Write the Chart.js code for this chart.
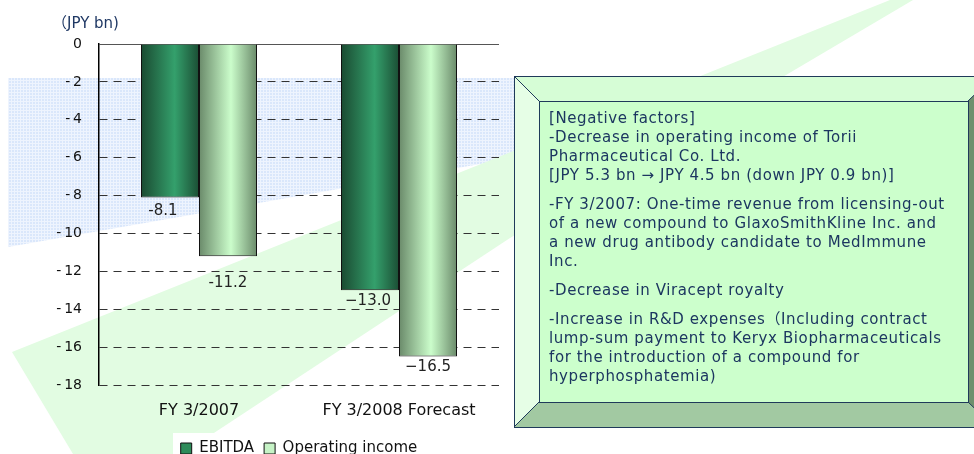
<!DOCTYPE html>
<html>
<head>
<meta charset="utf-8">
<script src="https://cdn.jsdelivr.net/npm/chart.js@4.4.1/dist/chart.umd.min.js"></script>
<style>
html, body { margin: 0; padding: 0; background: #fff; overflow: hidden; }
#wrap { width: 974px; height: 454px; overflow: hidden; position: relative; }
canvas { display: block; }
</style>
</head>
<body>
<div id="wrap"><canvas id="chart" width="974" height="466"></canvas></div>
<script>
// data
const categories = ['FY 3/2007', 'FY 3/2008 Forecast'];
const ebitda = [-8.1, -13.0];
const operatingIncome = [-11.2, -16.5];
const seriesNames = ['EBITDA', 'Operating income'];
const yMin = -18;
const yMax = 0;
const yStep = 2;
const unitLabel = '（JPY bn)';
const noteParagraphs = [
    ['[Negative factors]',
     '-Decrease in operating income of Torii',
     'Pharmaceutical Co. Ltd.',
     '[JPY 5.3 bn \u2192 JPY 4.5 bn (down JPY 0.9 bn)]'],
    ['-FY 3/2007: One-time revenue from licensing-out',
     'of a new compound to GlaxoSmithKline Inc. and',
     'a new drug antibody candidate to MedImmune',
     'Inc.'],
    ['-Decrease in Viracept royalty'],
    ['-Increase in R&D expenses\uFF08Including contract',
     'lump-sum payment to Keryx Biopharmaceuticals',
     'for the introduction of a compound for',
     'hyperphosphatemia)']
];

const FONT = '"DejaVu Sans", "Noto Sans CJK JP", sans-serif';
Chart.defaults.font.family = FONT;

// decorative background: blue dotted band, green wedge
const backdrop = {
    id: 'backdrop',
    beforeDraw(chart) {
        const ctx = chart.ctx;
        ctx.save();
        ctx.fillStyle = '#fff';
        ctx.fillRect(0, 0, chart.width, chart.height);

        const tile = document.createElement('canvas');
        tile.width = 3; tile.height = 3;
        const t = tile.getContext('2d');
        t.fillStyle = '#dae7fb';
        t.fillRect(0, 0, 3, 3);
        t.fillStyle = '#eef4fe';
        t.fillRect(2, 0, 1, 3);
        t.fillRect(0, 2, 3, 1);
        ctx.fillStyle = ctx.createPattern(tile, 'repeat');
        ctx.beginPath();
        ctx.moveTo(8, 78);
        ctx.lineTo(520, 78);
        ctx.lineTo(520, 157);
        ctx.lineTo(8, 247);
        ctx.closePath();
        ctx.fill();

        ctx.fillStyle = '#e2fce2';
        ctx.beginPath();
        ctx.moveTo(12, 352);
        ctx.lineTo(890, 0);
        ctx.lineTo(913, 0);
        ctx.lineTo(510, 238);
        ctx.lineTo(182, 454);
        ctx.lineTo(73, 454);
        ctx.closePath();
        ctx.fill();

        ctx.fillStyle = '#fff';
        ctx.fillRect(173, 433, 250, 30);
        ctx.restore();
    }
};

// bars shaded like cylinders
const barShade = {
    id: 'barShade',
    beforeDatasetsDraw(chart, args, opts) {
        const ctx = chart.ctx;
        chart.data.datasets.forEach((ds, di) => {
            const stops = opts.stops[di];
            chart.getDatasetMeta(di).data.forEach(bar => {
                const half = bar.width / 2;
                const g = ctx.createLinearGradient(bar.x - half, 0, bar.x + half, 0);
                stops.forEach(s => g.addColorStop(s[0], s[1]));
                bar.options = Object.assign({}, bar.options, { backgroundColor: g });
            });
        });
    }
};

// value labels under each bar end
const valueLabels = {
    id: 'valueLabels',
    afterDatasetsDraw(chart, args, opts) {
        const ctx = chart.ctx;
        ctx.save();
        ctx.font = '15px ' + FONT;
        ctx.fillStyle = '#222';
        ctx.textAlign = 'center';
        ctx.textBaseline = 'middle';
        chart.data.datasets.forEach((ds, di) => {
            chart.getDatasetMeta(di).data.forEach((bar, i) => {
                const n = opts.nudge[di][i];
                let txt = ds.data[i].toFixed(1);
                if (opts.trueMinus[i]) txt = txt.replace('-', '\u2212');
                ctx.fillText(txt, bar.x + n[0], bar.y + n[1]);
            });
        });
        ctx.restore();
    }
};

// unit label and the bevelled note box
const notes = {
    id: 'notes',
    afterDraw(chart) {
        const ctx = chart.ctx;
        ctx.save();
        ctx.font = '15px ' + FONT;
        ctx.fillStyle = '#1f3864';
        ctx.textBaseline = 'middle';
        ctx.fillText(unitLabel, 52, 24);

        const L = 514, T = 76, R = 994, B = 427;
        const l = 539, t = 101, r = 968, b = 402;
        const face = (pts, color) => {
            ctx.beginPath();
            ctx.moveTo(pts[0][0], pts[0][1]);
            pts.slice(1).forEach(p => ctx.lineTo(p[0], p[1]));
            ctx.closePath();
            ctx.fillStyle = color;
            ctx.fill();
        };
        face([[L, T], [R, T], [r, t], [l, t]], '#d6fdd6');
        face([[L, T], [l, t], [l, b], [L, B]], '#e6fee6');
        face([[L, B], [l, b], [r, b], [R, B]], '#a2c9a2');
        face([[R, T], [r, t], [r, b], [R, B]], '#6e906e');
        face([[l, t], [r, t], [r, b], [l, b]], '#ccffcc');
        ctx.strokeStyle = '#1f3a5a';
        ctx.lineWidth = 1;
        ctx.strokeRect(L + 0.5, T + 0.5, R - L, B - T);
        ctx.strokeRect(l + 0.5, t + 0.5, r - l, b - t);
        ctx.beginPath();
        ctx.moveTo(L, T); ctx.lineTo(l, t);
        ctx.moveTo(L, B); ctx.lineTo(l, b);
        ctx.moveTo(R, T); ctx.lineTo(r, t);
        ctx.moveTo(R, B); ctx.lineTo(r, b);
        ctx.stroke();

        ctx.fillStyle = '#1c3660';
        ctx.letterSpacing = '0.6px';
        let y = 119;
        noteParagraphs.forEach(par => {
            par.forEach(line => {
                ctx.fillText(line, 549, y);
                y += 19;
            });
            y += 10;
        });
        ctx.restore();
    }
};

new Chart(document.getElementById('chart'), {
    type: 'bar',
    data: {
        labels: categories,
        datasets: [{
            label: seriesNames[0],
            data: ebitda,
            backgroundColor: '#2e8b5a',
            borderColor: '#111',
            borderWidth: 1
        }, {
            label: seriesNames[1],
            data: operatingIncome,
            backgroundColor: '#c6f3c6',
            borderColor: '#111',
            borderWidth: 1
        }]
    },
    options: {
        responsive: false,
        animation: false,
        devicePixelRatio: 1,
        categoryPercentage: 0.58,
        barPercentage: 1.0,
        layout: { padding: { top: 44, right: 475, bottom: 0, left: 0 } },
        scales: {
            x: {
                grid: { display: false, drawTicks: false },
                border: { display: false },
                ticks: { font: { size: 16 }, color: '#111', padding: 16, maxRotation: 0 },
                afterFit: s => { s.height = 46; }
            },
            y: {
                min: yMin,
                max: yMax,
                ticks: {
                    stepSize: yStep,
                    font: { size: 14 },
                    color: '#111',
                    padding: 17,
                    callback: v => v < 0 ? '-\u2009' + Math.abs(v) : String(v)
                },
                grid: {
                    drawTicks: false,
                    lineWidth: 1,
                    color: c => c.tick && c.tick.value === 0 ? '#555' : '#333'
                },
                border: {
                    display: true,
                    color: '#000',
                    width: 1.5,
                    dash: c => c.tick && c.tick.value === 0 ? [] : [8, 6]
                },
                afterFit: s => { s.width = 99; }
            }
        },
        plugins: {
            legend: {
                position: 'bottom',
                fullSize: false,
                labels: { boxWidth: 11, boxHeight: 11, padding: 10, font: { size: 15 }, color: '#111' }
            },
            tooltip: { enabled: false },
            barShade: {
                stops: [
                    [[0, '#1a4a31'], [0.58, '#34a06c'], [1, '#1b4e34']],
                    [[0, '#6a8a6a'], [0.55, '#cbfdcb'], [1, '#6a8a6a']]
                ]
            },
            valueLabels: {
                nudge: [[[-7, 14], [-2, 11]], [[0, 27], [0, 11]]],
                trueMinus: [false, true]
            }
        }
    },
    plugins: [backdrop, barShade, valueLabels, notes]
});
</script>
</body>
</html>
